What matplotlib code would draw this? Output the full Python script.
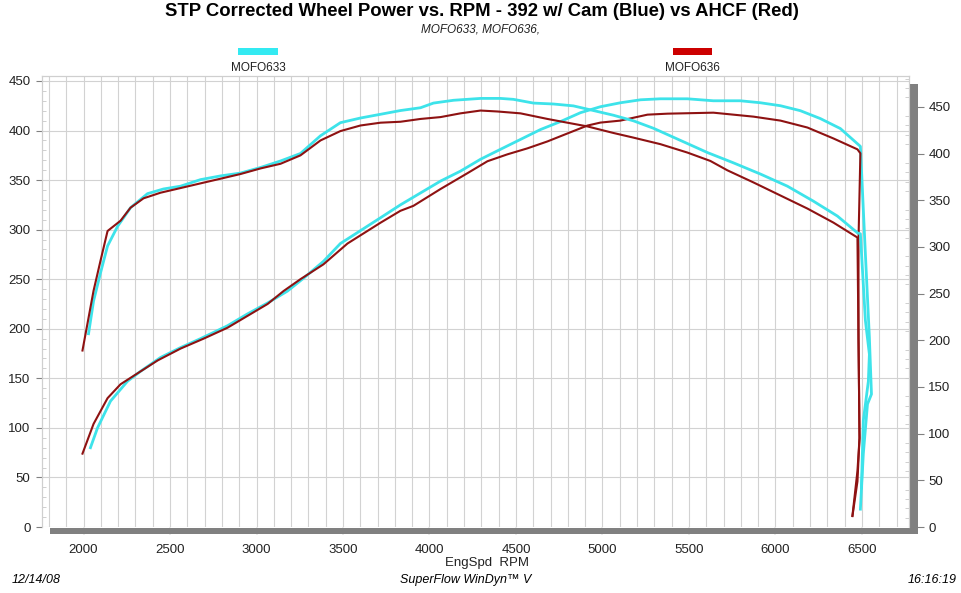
import matplotlib
matplotlib.use("Agg")
import matplotlib.pyplot as plt
from matplotlib.patches import Rectangle
from matplotlib.ticker import MultipleLocator

plt.rcParams['font.family'] = ['Liberation Sans', 'DejaVu Sans']

W, H = 961, 593

# power (left axis, hp) and torque (right axis, lb-ft)
cyan_hp_rpm = [2040, 2081, 2156, 2254, 2329, 2445, 2561, 2676, 2832, 2948, 3064, 3179, 3272,
               3387, 3485, 3601, 3717, 3832, 3948, 4064, 4179, 4295, 4410, 4526, 4642, 4757,
               4873, 4988, 5104, 5220, 5335, 5491, 5641, 5797, 5913, 6029, 6144, 6260, 6375,
               6491, 6520, 6543, 6555, 6532, 6508, 6491]
cyan_hp = [80, 100, 127, 147, 157, 171, 181, 190, 203, 215, 226, 238, 251,
           268, 286, 299, 312, 325, 337, 349, 359, 371, 381, 391, 401, 409,
           418, 424, 428, 431, 432, 432, 430, 430, 428, 425, 420, 412, 402,
           384, 275, 191, 134, 124, 74, 18]

cyan_tq_rpm = [2029, 2058, 2098, 2139, 2197, 2272, 2370, 2462, 2561, 2676, 2792, 2907, 3023,
               3139, 3254, 3370, 3485, 3601, 3717, 3832, 3948, 4023, 4139, 4295, 4410, 4485,
               4601, 4717, 4832, 4948, 5063, 5179, 5295, 5451, 5607, 5757, 5913, 6069, 6219,
               6358, 6474, 6491, 6520, 6543, 6537, 6508, 6497]
cyan_tq = [207, 242, 272, 301, 322, 342, 357, 362, 365, 372, 376, 379, 385,
           392, 400, 419, 433, 438, 442, 446, 449, 454, 457, 459, 459, 458,
           454, 453, 451, 446, 441, 435, 427, 414, 401, 390, 378, 365, 349,
           333, 315, 314, 221, 185, 156, 114, 42]

red_hp_rpm = [1994, 2058, 2139, 2214, 2312, 2428, 2561, 2694, 2832, 2948, 3064, 3156, 3254,
              3387, 3526, 3717, 3832, 3907, 4064, 4220, 4335, 4451, 4566, 4682, 4797, 4913,
              4988, 5104, 5260, 5376, 5641, 5873, 6029, 6185, 6335, 6474, 6491, 6480, 6480,
              6486, 6474, 6445]
red_hp = [74, 104, 130, 144, 155, 168, 180, 190, 201, 213, 225, 238, 250,
          265, 286, 307, 319, 324, 341, 357, 369, 376, 382, 389, 397, 405,
          408, 410, 416, 417, 418, 414, 410, 403, 392, 381, 377, 289, 191,
          90, 46, 11]

red_tq_rpm = [1994, 2023, 2058, 2098, 2139, 2214, 2272, 2347, 2445, 2561, 2676, 2792, 2907,
              3023, 3139, 3254, 3370, 3485, 3601, 3717, 3832, 3948, 4064, 4179, 4295, 4393,
              4526, 4682, 4797, 4913, 5063, 5179, 5335, 5491, 5624, 5722, 5873, 6029, 6185,
              6335, 6474, 6480, 6486, 6474, 6445]
red_tq = [189, 218, 253, 285, 317, 328, 342, 352, 358, 363, 368, 373, 378,
          384, 389, 398, 414, 424, 430, 433, 434, 437, 439, 443, 446, 445,
          443, 437, 433, 429, 422, 417, 410, 401, 392, 382, 369, 355, 341,
          326, 310, 203, 95, 60, 12]

x_ticks = [2000, 2500, 3000, 3500, 4000, 4500, 5000, 5500, 6000, 6500]
y_ticks = [0, 50, 100, 150, 200, 250, 300, 350, 400, 450]

CYAN = '#3DE3EA'
RED = '#8E1212'
GRAY = '#808080'
GRID = '#d2d2d2'


def fx(px):
    return px / W


def fy(py):
    return 1 - py / H


fig = plt.figure(figsize=(W / 100, H / 100), dpi=100)
fig.patch.set_facecolor('white')

ax = fig.add_axes([fx(42), fy(527), fx(909) - fx(42), fy(76) - fy(527)])
ax2 = ax.twinx()

ax.set_xlim(1760, 6772)
ax.set_ylim(0, 455)
ax2.set_ylim(0, 483)

ax.xaxis.set_minor_locator(MultipleLocator(100))
ax.set_xticks(x_ticks)
ax.set_yticks(y_ticks)
ax.yaxis.set_minor_locator(MultipleLocator(10))
ax2.set_yticks(y_ticks)
ax2.yaxis.set_minor_locator(MultipleLocator(10))

ax.grid(True, which='major', axis='y', color=GRID, lw=0.8)
ax.grid(True, which='both', axis='x', color=GRID, lw=0.8)
ax.set_axisbelow(True)

for a in (ax, ax2):
    for s in a.spines.values():
        s.set_color('#cfcfcf')
        s.set_linewidth(0.8)
    a.spines['bottom'].set_visible(False)

ax.tick_params(axis='y', which='major', direction='out', length=4.3, color=GRAY,
               labelsize=9.5, pad=4, labelcolor='#222222')
ax.tick_params(axis='y', which='minor', direction='in', length=3, color='#c8c8c8')
ax.tick_params(axis='x', which='major', direction='out', length=6, color='#e8e8e8',
               width=1.2, labelsize=9.5, pad=6, labelcolor='#222222')
ax.tick_params(axis='x', which='minor', length=0)
ax2.tick_params(axis='y', which='major', direction='out', length=11, color=GRAY,
                labelsize=9.5, pad=3, labelcolor='#222222')
ax2.tick_params(axis='y', which='minor', direction='in', length=3, color='#c8c8c8')

# gray bars along bottom and right
ax.add_patch(Rectangle((fx(50), fy(534)), fx(918) - fx(50), fy(528) - fy(534),
                       transform=fig.transFigure, facecolor=GRAY, edgecolor='none',
                       clip_on=False, zorder=1))
ax2.add_patch(Rectangle((fx(910), fy(528)), fx(918) - fx(910), fy(84) - fy(528),
                        transform=fig.transFigure, facecolor=GRAY, edgecolor='none',
                        clip_on=False, zorder=1))

ax.plot(cyan_hp_rpm, cyan_hp, color=CYAN, lw=2.0, zorder=3)
ax.plot(red_hp_rpm, red_hp, color=RED, lw=1.5, zorder=4)
ax2.plot(cyan_tq_rpm, cyan_tq, color=CYAN, lw=2.0, zorder=3)
ax2.plot(red_tq_rpm, red_tq, color=RED, lw=1.5, zorder=4)

# titles
fig.text(fx(482), fy(12), 'STP Corrected Wheel Power vs. RPM - 392 w/ Cam (Blue) vs AHCF (Red)',
         ha='center', va='center', fontsize=13.3, fontweight='bold')
fig.text(fx(481), fy(29), 'MOFO633, MOFO636,', ha='center', va='center',
         fontsize=8.5, style='italic', color='#222222')

# legend
fig.patches.append(Rectangle((fx(238), fy(55)), fx(278) - fx(238), fy(48) - fy(55),
                             transform=fig.transFigure, facecolor='#33EAF2', edgecolor='none'))
fig.patches.append(Rectangle((fx(673), fy(55)), fx(712) - fx(673), fy(48) - fy(55),
                             transform=fig.transFigure, facecolor='#CC0000', edgecolor='none'))
fig.text(fx(258), fy(68), 'MOFO633', ha='center', va='center', fontsize=8.5, color='#222222')
fig.text(fx(692), fy(68), 'MOFO636', ha='center', va='center', fontsize=8.5, color='#222222')

# axis name and footer
fig.text(fx(487), fy(563), 'EngSpd  RPM', ha='center', va='center', fontsize=9.5, color='#222222')
fig.text(fx(12), fy(580), '12/14/08', ha='left', va='center', fontsize=9, style='italic')
fig.text(fx(466), fy(580), 'SuperFlow WinDyn\u2122 V', ha='center', va='center',
         fontsize=9, style='italic')
fig.text(fx(957), fy(580), '16:16:19', ha='right', va='center', fontsize=9, style='italic')

fig.savefig('out.png', dpi=100)
